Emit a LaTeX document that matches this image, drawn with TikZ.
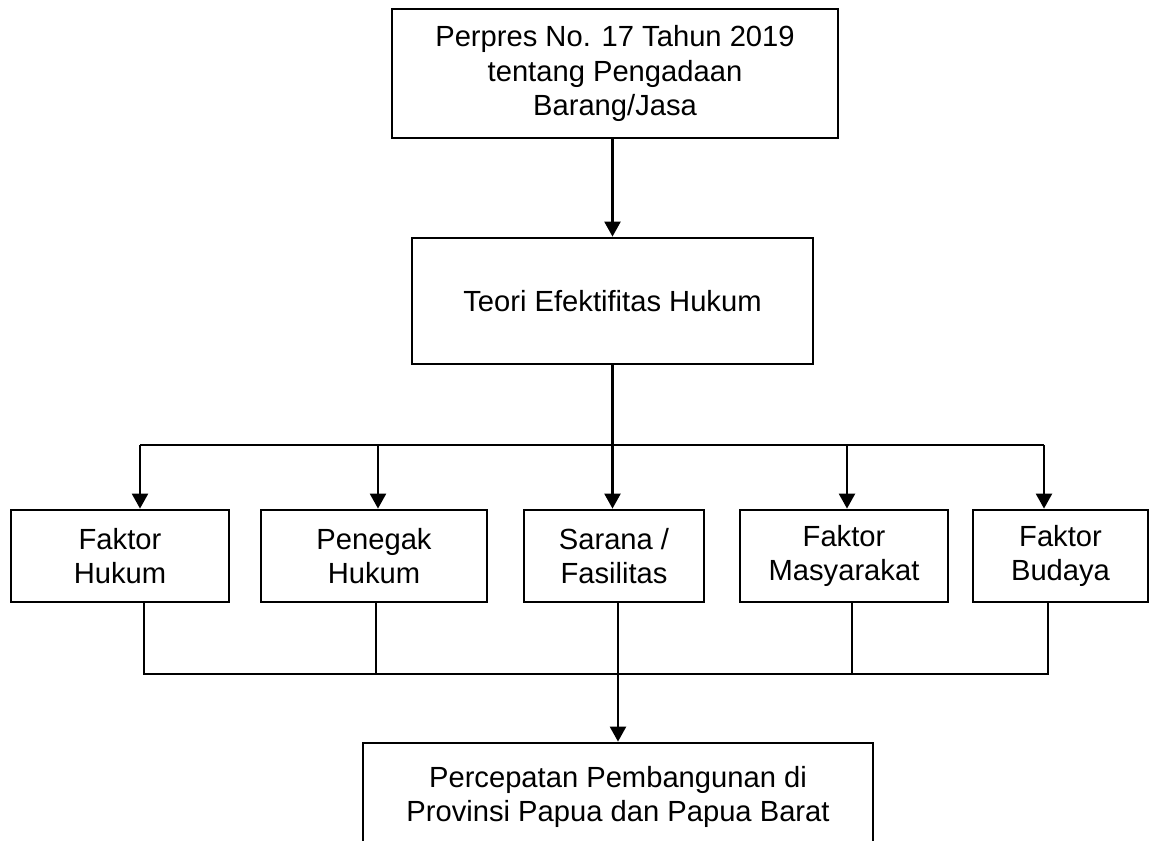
\documentclass[tikz,border=0pt]{standalone}
\usepackage{fontspec}
\setmainfont{Liberation Sans}
\usetikzlibrary{arrows.meta}
\tikzset{
  box/.style={draw, line width=1.6pt, align=center, inner sep=0pt,
    font=\fontsize{16.6}{19.4}\selectfont},
  link/.style={line width=1.35pt},
  arr/.style={link, -{Triangle[width=0.32cm, length=0.3cm]}}
}

\begin{document}
\begin{tikzpicture}[x=0.02cm, y=-0.02cm]
        \useasboundingbox (0,0) rectangle (1150,841);

        \node[box, minimum width=8.92cm, minimum height=2.58cm] (perpres) at (615,73.5)
            {Perpres No. 17 Tahun 2019\\tentang Pengadaan\\Barang/Jasa};
        \node[box, minimum width=8.02cm, minimum height=2.52cm] (teori) at (612.5,301)
            {Teori Efektifitas Hukum};

        \node[box, minimum width=4.36cm, minimum height=1.84cm] (hukum) at (120,556) {Faktor\\Hukum};
        \node[box, minimum width=4.52cm, minimum height=1.84cm] (penegak) at (374,556) {Penegak\\Hukum};
        \node[box, minimum width=3.60cm, minimum height=1.84cm] (sarana) at (614,556) {Sarana /\\Fasilitas};
        \node[box, minimum width=4.16cm, minimum height=1.84cm] (masyarakat) at (844,556) {Faktor\\Masyarakat};
        \node[box, minimum width=3.50cm, minimum height=1.84cm] (budaya) at (1060.5,556) {Faktor\\Budaya};

        \node[box, minimum width=10.2cm, minimum height=2.16cm] (percepatan) at (618,797)
            {Percepatan Pembangunan di\\Provinsi Papua dan Papua Barat};

        \coordinate (a1) at (140,445);
        \coordinate (a2) at (378,445);
        \coordinate (a3) at (612.5,445);
        \coordinate (a4) at (847,445);
        \coordinate (a5) at (1044,445);

        \coordinate (b1) at (144,674);
        \coordinate (b2) at (376,674);
        \coordinate (b3) at (618,674);
        \coordinate (b4) at (852,674);
        \coordinate (b5) at (1048,674);

        \draw[arr] (teori.north |- perpres.south) -- (teori.north);

        \draw[arr] (teori.south) -- (a3) -- (a3 |- sarana.north);
        \draw[link] (a1) -- (a5);
        \draw[arr] (a1) -- (a1 |- hukum.north);
        \draw[arr] (a2) -- (a2 |- penegak.north);
        \draw[arr] (a4) -- (a4 |- masyarakat.north);
        \draw[arr] (a5) -- (a5 |- budaya.north);

        \draw[link] (b1 |- hukum.south) -- (b1) -- (b5) -- (b5 |- budaya.south);
        \draw[link] (b2 |- penegak.south) -- (b2);
        \draw[link] (b4 |- masyarakat.south) -- (b4);
        \draw[arr] (b3 |- sarana.south) -- (b3) -- (b3 |- percepatan.north);

    \end{tikzpicture}
\end{document}
